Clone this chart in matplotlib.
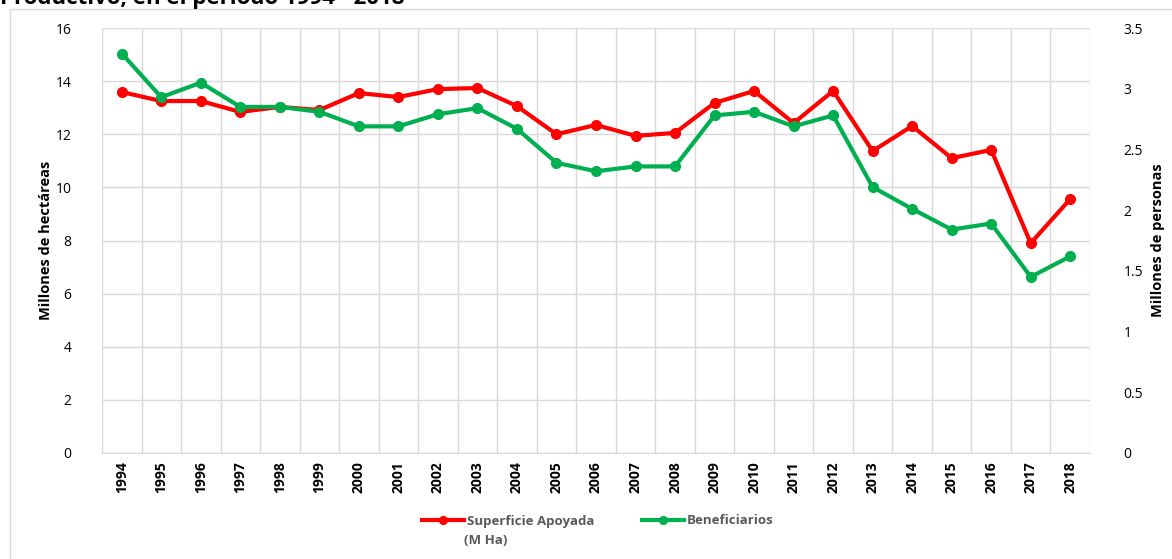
import matplotlib.pyplot as plt
from matplotlib.patches import Rectangle

years = [str(y) for y in range(1994, 2019)]
superficie = [13.59, 13.25, 13.25, 12.84, 13.03, 12.91, 13.55, 13.40, 13.70, 13.74,
              13.06, 12.00, 12.35, 11.94, 12.05, 13.18, 13.63, 12.42, 13.63, 11.37,
              12.31, 11.10, 11.41, 7.90, 9.56]
beneficiarios = [3.29, 2.93, 3.05, 2.85, 2.85, 2.81, 2.69, 2.69, 2.79, 2.84,
                 2.67, 2.39, 2.32, 2.36, 2.36, 2.78, 2.81, 2.69, 2.78, 2.19,
                 2.01, 1.84, 1.89, 1.45, 1.62]

plt.rcParams['font.family'] = ['Open Sans', 'DejaVu Sans']

fig = plt.figure(figsize=(11.72, 5.59), dpi=100)
W, H = 1172, 559

# chart border (runs off the picture right and bottom)
fig.patches.append(Rectangle((10 / W, -0.1), 1.2, 1 - 9 / H + 0.1, transform=fig.transFigure,
                             fill=False, edgecolor='#d9d9d9', linewidth=1))

fig.text(0.0, 1 - 4 / H, "Productivo, en el periodo 1994 - 2018", fontsize=16,
         fontweight='bold', ha='left', va='baseline')

ax = fig.add_axes([102 / W, 1 - 453 / H, (1090 - 102) / W, (453 - 28) / H])
ax2 = ax.twinx()

x = list(range(len(years)))
l1, = ax.plot(x, superficie, color='#ff0000', lw=3, marker='o', ms=7,
              label='Superficie Apoyada', zorder=3)
l2, = ax2.plot(x, beneficiarios, color='#00b050', lw=3, marker='o', ms=7,
               label='Beneficiarios', zorder=3)

ax.set_xlim(-0.5, len(years) - 0.5)
ax.set_ylim(0, 16)
ax.set_yticks(range(0, 17, 2))
ax2.set_ylim(0, 3.5)
ax2.set_yticks([0, 0.5, 1, 1.5, 2, 2.5, 3, 3.5])
ax2.set_yticklabels(['0', '0.5', '1', '1.5', '2', '2.5', '3', '3.5'])

ax.set_xticks(x)
ax.set_xticklabels(years, rotation=90, fontweight='bold', fontsize=10)
ax.set_xticks([i - 0.5 for i in range(len(years) + 1)], minor=True)
ax.grid(True, which='minor', axis='x', color='#d9d9d9', lw=1)
ax.grid(True, which='major', axis='y', color='#d9d9d9', lw=1)
ax.set_axisbelow(True)

for a in (ax, ax2):
    for s in a.spines.values():
        s.set_visible(False)
    a.tick_params(length=0, labelsize=10)
ax.spines['bottom'].set_visible(True)
ax.spines['bottom'].set_color('#d9d9d9')
ax.tick_params(axis='y', pad=22)
ax2.tick_params(axis='y', pad=24)
ax.tick_params(axis='x', which='both', length=0, pad=6)

ax.set_ylabel('Millones de hectáreas', fontsize=10.5, fontweight='bold', labelpad=2)
ax2.set_ylabel('Millones de personas', fontsize=10.5, fontweight='bold', labelpad=6)

leg = fig.legend(handles=[l1, l2], loc='center left', bbox_to_anchor=(410 / W, 1 - 521 / H),
                 ncol=2, frameon=False, fontsize=9.5, handlelength=3.2,
                 handletextpad=0.2, columnspacing=3.6, markerscale=0.8)
for t in leg.get_texts():
    t.set_color('#595959')
    t.set_fontweight('bold')
for h in leg.legend_handles:
    h.set_linewidth(3)
fig.text(464 / W, 1 - 541 / H, '(M Ha)', color='#595959', fontweight='bold',
         fontsize=9.5, ha='left', va='center')

fig.savefig('out.png', dpi=100)
